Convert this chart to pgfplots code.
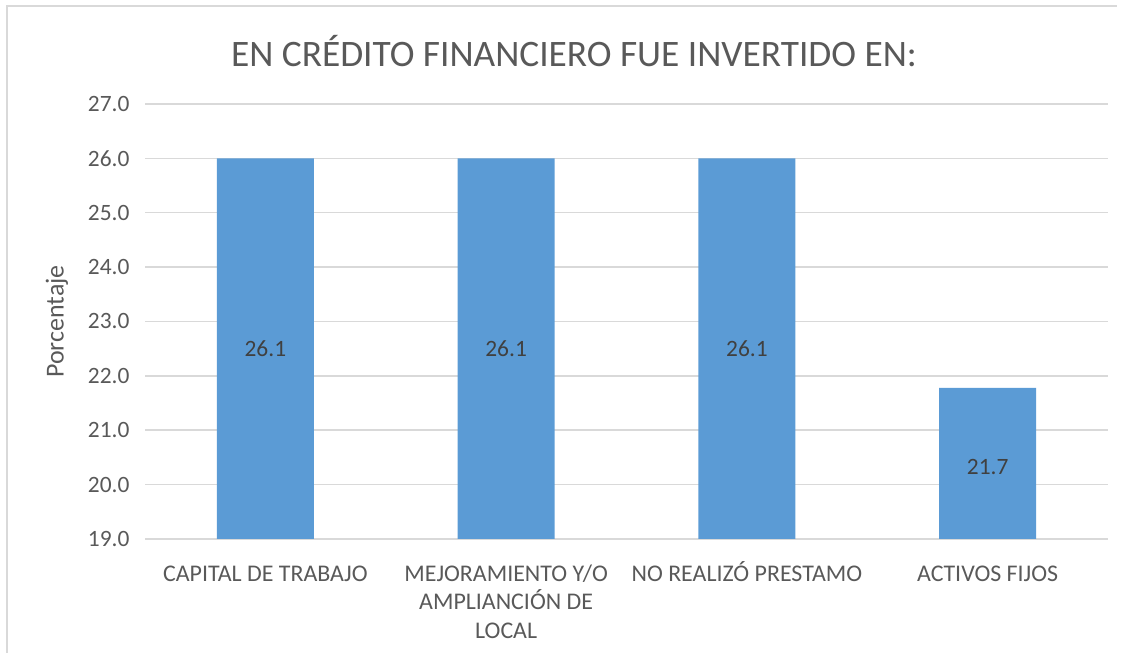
\documentclass[border=0pt]{standalone}
\usepackage{fontspec}
\setmainfont{Carlito}
\usepackage{pgfplots}
\pgfplotsset{compat=1.18}
\definecolor{barblue}{HTML}{5B9BD5}
\definecolor{gridgray}{HTML}{D9D9D9}
\definecolor{txtgray}{HTML}{595959}
\definecolor{lblgray}{HTML}{404040}
\begin{document}
\begin{tikzpicture}[x=1bp,y=1bp]
\path[use as bounding box] (0,0) rectangle (1126,653);
\draw[gridgray, line width=1.5bp] (7,0) -- (7,647) -- (1117,647);
\node[txtgray, font=\fontsize{37.5}{44}\selectfont] at (574,602) {EN CRÉDITO FINANCIERO FUE INVERTIDO EN:};
\begin{axis}[
  at={(145bp,114bp)}, anchor=south west,
  scale only axis, width=963bp, height=435bp,
  xmin=-0.5, xmax=3.5, ymin=19, ymax=27,
  ytick={19,20,...,27},
  xtick={0,1,2,3},
  xticklabels={\vphantom{Ó}CAPITAL DE TRABAJO, {\vphantom{Ó}MEJORAMIENTO Y/O\\AMPLIANCIÓN DE\\LOCAL}, \vphantom{Ó}NO REALIZÓ PRESTAMO, \vphantom{Ó}ACTIVOS FIJOS},
  xticklabel style={align=center, font=\fontsize{24}{28.5}\selectfont, text=txtgray, anchor=north, yshift=-19bp},
  yticklabel style={font=\fontsize{23.5}{28}\selectfont, text=txtgray, xshift=-12bp,
    /pgf/number format/fixed, /pgf/number format/fixed zerofill, /pgf/number format/precision=1, /pgf/number format/assume math mode=true},
  major tick length=0pt,
  axis line style={draw=none},
  ymajorgrids,
  major grid style={gridgray, line width=1.5bp},
  ylabel={Porcentaje},
  ylabel style={at={(axis description cs:-0.0914,0.5)}, anchor=center, font=\fontsize{26}{30}\selectfont, text=txtgray},
  clip=false,
]
\addplot[ybar, bar width=97bp, fill=barblue, draw=none] coordinates {(0,26.0) (1,26.0) (2,26.0) (3,21.78)};
\addplot[draw=none, mark=none, nodes near coords, point meta=explicit symbolic,
  nodes near coords style={anchor=center, font=\fontsize{23.5}{28}\selectfont, text=lblgray}]
  coordinates {(0,22.5)[26.1] (1,22.5)[26.1] (2,22.5)[26.1] (3,20.33)[21.7]};
\end{axis}
\end{tikzpicture}
\end{document}
